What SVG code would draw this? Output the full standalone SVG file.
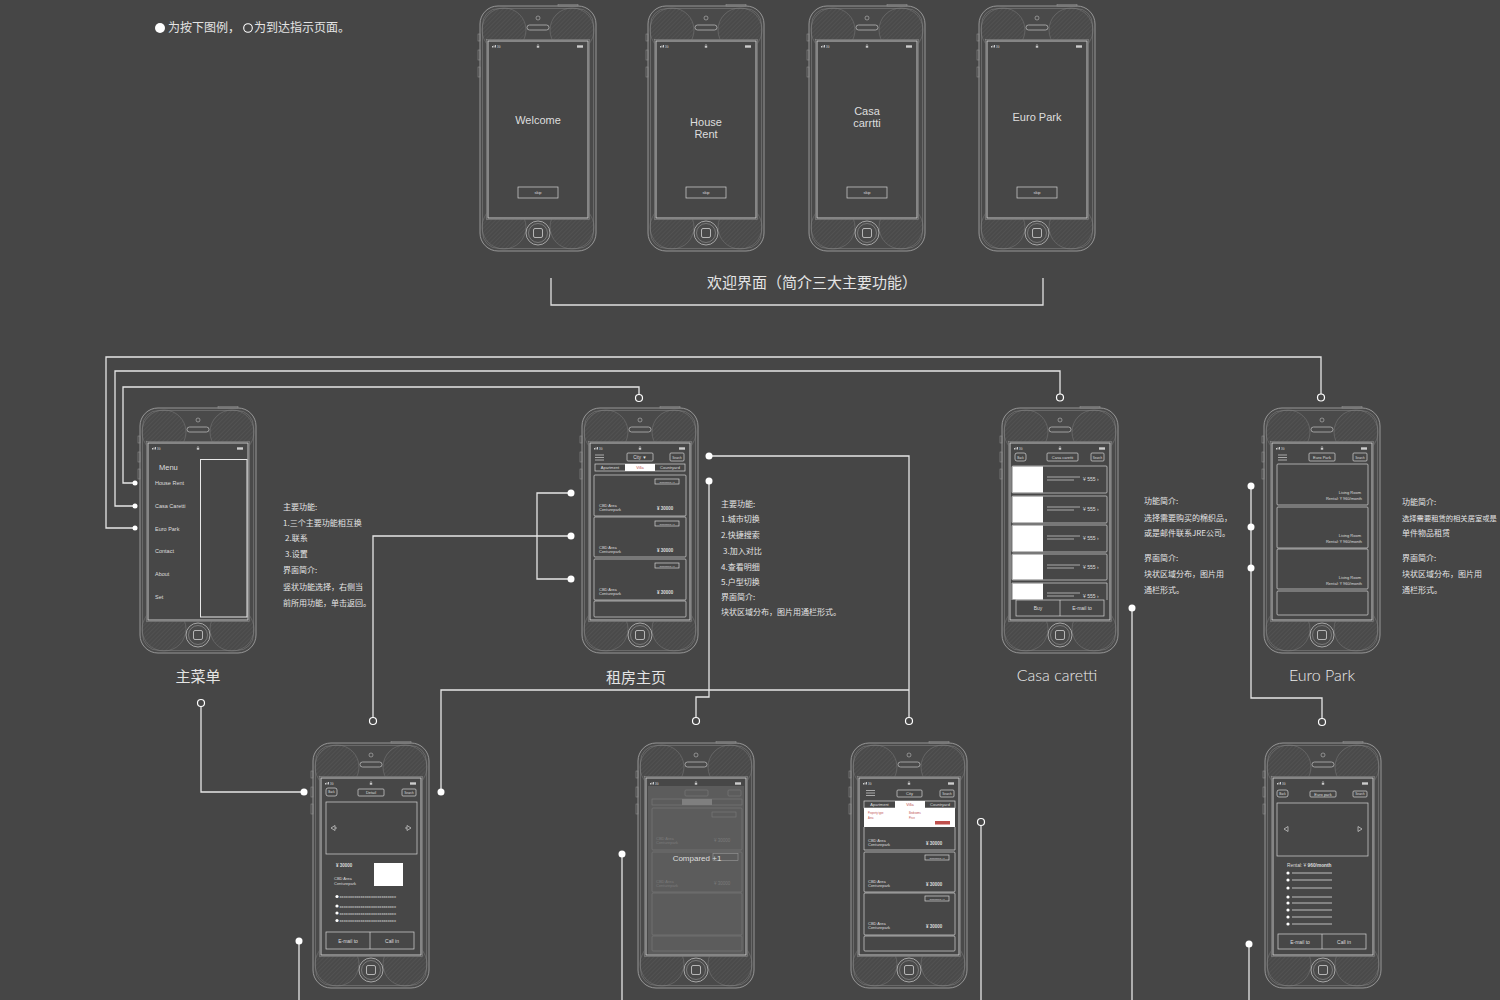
<svg xmlns="http://www.w3.org/2000/svg" width="1500" height="1000" viewBox="0 0 1500 1000">
<defs>
<style>
.cn{font-family:"Noto Sans CJK SC","Liberation Sans",sans-serif;fill:#e4e4e4}
.t{font-family:"Liberation Sans",Arial,sans-serif;fill:#dedede}
.g{font-family:Lato,"Liberation Sans",sans-serif;fill:#ececec;font-weight:300}
.w{fill:none;stroke:#d4d4d4;stroke-width:0.7}
.conn path{fill:none;stroke:#e6e6e6;stroke-width:1.3}
.dot{fill:#ffffff}
.odot{fill:#464646;stroke:#ffffff;stroke-width:1.2}
.red{fill:#c0504d}
</style>
<pattern id="hatch" width="3" height="3" patternUnits="userSpaceOnUse" patternTransform="rotate(45)">
<line x1="0" y1="0" x2="0" y2="3" stroke="#5a5a5a" stroke-width="1"/>
</pattern>
<g id="phone">
<rect x="0" y="0" width="116" height="245" rx="18" fill="#4a4a4a" stroke="#a9a9a9" stroke-width="0.8"/>
<circle cx="24" cy="24" r="22" fill="url(#hatch)" stroke="#7c7c7c" stroke-width="0.5"/>
<circle cx="92" cy="24" r="22" fill="url(#hatch)" stroke="#7c7c7c" stroke-width="0.5"/>
<circle cx="24" cy="221" r="22" fill="url(#hatch)" stroke="#7c7c7c" stroke-width="0.5"/>
<circle cx="92" cy="221" r="22" fill="url(#hatch)" stroke="#7c7c7c" stroke-width="0.5"/>
<rect x="2.5" y="2.5" width="111" height="240" rx="16" fill="none" stroke="#888" stroke-width="0.5"/>
<rect x="-2" y="28" width="2" height="7" fill="none" stroke="#999" stroke-width="0.5"/>
<rect x="-2" y="44" width="2" height="10" fill="none" stroke="#999" stroke-width="0.5"/>
<rect x="-2" y="61" width="2" height="10" fill="none" stroke="#999" stroke-width="0.5"/>
<rect x="78" y="-1.5" width="20" height="1.5" fill="none" stroke="#999" stroke-width="0.5"/>
<circle cx="58" cy="12" r="2" fill="none" stroke="#bbb" stroke-width="0.6"/>
<rect x="47" y="19" width="22" height="5" rx="2.5" fill="none" stroke="#c4c4c4" stroke-width="0.7"/>
<rect x="6.5" y="33.5" width="103" height="180" fill="#474747" stroke="#8c8c8c" stroke-width="0.6"/>
<rect x="8" y="35" width="100" height="177" fill="none" stroke="#d0d0d0" stroke-width="0.9"/>
<rect x="12" y="40" width="1" height="1.5" fill="#ccc"/>
<rect x="13.5" y="39.5" width="1" height="2" fill="#ccc"/>
<rect x="15" y="39" width="1" height="2.5" fill="#ccc"/>
<text x="17" y="41.5" class="t" font-size="2.6">3G</text>
<rect x="56.8" y="39.8" width="2.4" height="1.9" fill="#ccc"/>
<path d="M57.3,39.8v-0.7a0.7,0.7 0 0 1 1.4,0v0.7" fill="none" stroke="#ccc" stroke-width="0.4"/>
<rect x="97" y="39.3" width="6" height="2.4" fill="#ccc"/>
<circle cx="58" cy="227" r="12" fill="none" stroke="#bdbdbd" stroke-width="0.8"/>
<circle cx="58" cy="227" r="9.5" fill="none" stroke="#9a9a9a" stroke-width="0.6"/>
<rect x="53.5" y="222.5" width="9" height="9" rx="1.5" fill="none" stroke="#d0d0d0" stroke-width="0.8"/>
</g>
</defs>
<rect x="0" y="0" width="1500" height="1000" fill="#464646"/>

<g id="legend">
<circle cx="160" cy="28" r="5" class="dot"/>
<text x="168" y="32" class="cn" font-size="12">为按下图例，</text>
<circle cx="248" cy="28" r="4.3" fill="none" stroke="#fff" stroke-width="1.1"/>
<text x="254" y="32" class="cn" font-size="12">为到达指示页面。</text>
</g>

<g id="welcome-1">
<use href="#phone" x="480" y="6"/>
<text x="538" y="124" class="t" font-size="11" text-anchor="middle">Welcome</text>
<rect x="518" y="187" width="40" height="11" class="w"/>
<text x="538" y="194" class="t" font-size="4" text-anchor="middle">skip</text>
</g>
<g id="welcome-2">
<use href="#phone" x="648" y="6"/>
<text x="706" y="126" class="t" font-size="11" text-anchor="middle">House</text>
<text x="706" y="138" class="t" font-size="11" text-anchor="middle">Rent</text>
<rect x="686" y="187" width="40" height="11" class="w"/>
<text x="706" y="194" class="t" font-size="4" text-anchor="middle">skip</text>
</g>
<g id="welcome-3">
<use href="#phone" x="809" y="6"/>
<text x="867" y="115" class="t" font-size="11" text-anchor="middle">Casa</text>
<text x="867" y="127" class="t" font-size="11" text-anchor="middle">carrtti</text>
<rect x="847" y="187" width="40" height="11" class="w"/>
<text x="867" y="194" class="t" font-size="4" text-anchor="middle">skip</text>
</g>
<g id="welcome-4">
<use href="#phone" x="979" y="6"/>
<text x="1037" y="121" class="t" font-size="11" text-anchor="middle">Euro Park</text>
<rect x="1017" y="187" width="40" height="11" class="w"/>
<text x="1037" y="194" class="t" font-size="4" text-anchor="middle">skip</text>
</g>

<g id="welcome-bracket">
<path d="M551,278V305H1043V278" fill="none" stroke="#e0e0e0" stroke-width="1.3"/>
<text x="812" y="288" class="cn" font-size="15" text-anchor="middle">欢迎界面（简介三大主要功能）</text>
</g>

<g id="main-menu">
<use href="#phone" x="140" y="408"/>
<text x="159" y="470" class="t" font-size="7.5">Menu</text>
<text x="155" y="485" class="t" font-size="5.5">House Rent</text>
<text x="155" y="508" class="t" font-size="5.5">Casa  Caretti</text>
<text x="155" y="531" class="t" font-size="5.5">Euro Park</text>
<text x="155" y="553" class="t" font-size="5.5">Contact</text>
<text x="155" y="576" class="t" font-size="5.5">About</text>
<text x="155" y="599" class="t" font-size="5.5">Set</text>
<rect x="200.5" y="459.5" width="46.5" height="157.5" fill="none" stroke="#e8e8e8" stroke-width="1"/>
<text x="198" y="682" class="cn" font-size="15" text-anchor="middle">主菜单</text>
</g>
<g id="menu-notes">
<text x="283" y="510" class="cn" font-size="8">主要功能:</text>
<text x="283" y="526" class="cn" font-size="8">1.三个主要功能相互换</text>
<text x="285" y="541" class="cn" font-size="8">2.联系</text>
<text x="285" y="557" class="cn" font-size="8">3.设置</text>
<text x="283" y="573" class="cn" font-size="8">界面简介:</text>
<text x="283" y="590" class="cn" font-size="8">竖状功能选择，右侧当</text>
<text x="283" y="606" class="cn" font-size="8">前所用功能，单击返回。</text>
</g>

<g id="rent-home">
<use href="#phone" x="582" y="408"/>
<g class="w">
<path d="M595,455h9M595,457.5h9M595,460h9"/>
<rect x="627" y="453" width="26" height="8" rx="1"/>
<rect x="670" y="453" width="14" height="8" rx="1"/>
<rect x="595" y="464" width="90" height="7"/>
<rect x="594" y="475" width="92" height="41" rx="1"/>
<rect x="594" y="517" width="92" height="40" rx="1"/>
<rect x="594" y="559" width="92" height="41" rx="1"/>
<rect x="594" y="601" width="92" height="16" rx="1"/>
<rect x="655" y="479" width="24" height="5"/>
<rect x="655" y="521" width="24" height="5"/>
<rect x="655" y="563" width="24" height="5"/>
</g>
<rect x="625" y="464" width="30" height="7" fill="#fff"/>
<text x="640" y="459" class="t" font-size="4.5" text-anchor="middle">City ▼</text>
<text x="677" y="458.5" class="t" font-size="3" text-anchor="middle">Search</text>
<text x="610" y="469.3" class="t" font-size="4" text-anchor="middle">Apartment</text>
<text x="640" y="469.3" class="red" font-family="Liberation Sans,sans-serif" font-size="4" text-anchor="middle">Villa</text>
<text x="670" y="469.3" class="t" font-size="4" text-anchor="middle">Countryard</text>
<text x="667" y="482.5" class="t" font-size="2.5" text-anchor="middle">Compared +1</text>
<text x="667" y="524.5" class="t" font-size="2.5" text-anchor="middle">Compared +1</text>
<text x="667" y="566.5" class="t" font-size="2.5" text-anchor="middle">Compared +1</text>
<text x="599" y="507" class="t" font-size="4">CBD Area</text>
<text x="599" y="511" class="t" font-size="4">Centurepark</text>
<text x="657" y="509.5" class="t" font-size="4.5" font-weight="bold">¥ 30000</text>
<text x="599" y="549" class="t" font-size="4">CBD Area</text>
<text x="599" y="553" class="t" font-size="4">Centurepark</text>
<text x="657" y="551.5" class="t" font-size="4.5" font-weight="bold">¥ 30000</text>
<text x="599" y="591" class="t" font-size="4">CBD Area</text>
<text x="599" y="595" class="t" font-size="4">Centurepark</text>
<text x="657" y="593.5" class="t" font-size="4.5" font-weight="bold">¥ 30000</text>
<text x="636" y="683" class="cn" font-size="15" text-anchor="middle">租房主页</text>
</g>
<g id="rent-notes">
<text x="721" y="507" class="cn" font-size="8">主要功能:</text>
<text x="721" y="522" class="cn" font-size="8">1.城市切换</text>
<text x="721" y="538" class="cn" font-size="8">2.快捷搜索</text>
<text x="723" y="554" class="cn" font-size="8">3.加入对比</text>
<text x="721" y="570" class="cn" font-size="8">4.查看明细</text>
<text x="721" y="585" class="cn" font-size="8">5.户型切换</text>
<text x="721" y="600" class="cn" font-size="8">界面简介:</text>
<text x="721" y="615" class="cn" font-size="8">块状区域分布，图片用通栏形式。</text>
</g>

<g id="casa-caretti">
<use href="#phone" x="1002" y="408"/>
<g class="w">
<rect x="1015" y="453" width="11" height="8" rx="2"/>
<rect x="1047" y="453" width="31" height="8" rx="1"/>
<rect x="1091" y="453" width="13" height="8" rx="1"/>
<rect x="1012" y="466" width="95" height="27" rx="1"/>
<rect x="1012" y="496" width="95" height="27" rx="1"/>
<rect x="1012" y="525" width="95" height="27" rx="1"/>
<rect x="1012" y="554" width="95" height="26" rx="1"/>
<path d="M1012,600V583H1107V600"/>
<path d="M1047,477h33M1047,480h27M1047,507h33M1047,510h27M1047,536h33M1047,539h27M1047,565h33M1047,568h27M1047,593h33M1047,596h27"/>
<rect x="1016" y="600" width="88" height="16"/>
<path d="M1060,600v16"/>
</g>
<rect x="1012.5" y="466.5" width="30.5" height="26" fill="#fff"/>
<rect x="1012.5" y="496.5" width="30.5" height="26" fill="#fff"/>
<rect x="1012.5" y="525.5" width="30.5" height="26" fill="#fff"/>
<rect x="1012.5" y="554.5" width="30.5" height="25" fill="#fff"/>
<rect x="1012.5" y="583.5" width="30.5" height="16" fill="#fff"/>
<text x="1020.5" y="458.5" class="t" font-size="3" text-anchor="middle">Back</text>
<text x="1062.5" y="458.8" class="t" font-size="4" text-anchor="middle">Casa caretti</text>
<text x="1097.5" y="458.5" class="t" font-size="3" text-anchor="middle">Search</text>
<text x="1083" y="481" class="t" font-size="5">¥ 555 ›</text>
<text x="1083" y="511" class="t" font-size="5">¥ 555 ›</text>
<text x="1083" y="540" class="t" font-size="5">¥ 555 ›</text>
<text x="1083" y="569" class="t" font-size="5">¥ 555 ›</text>
<text x="1083" y="598" class="t" font-size="5">¥ 555 ›</text>
<text x="1038" y="610" class="t" font-size="5" text-anchor="middle">Buy</text>
<text x="1082" y="610" class="t" font-size="5" text-anchor="middle">E-mail to</text>
<text x="1057" y="681" class="g" font-size="16" text-anchor="middle">Casa caretti</text>
</g>
<g id="casa-notes">
<text x="1144" y="504" class="cn" font-size="8">功能简介:</text>
<text x="1144" y="521" class="cn" font-size="8">选择需要购买的棉织品，</text>
<text x="1144" y="536" class="cn" font-size="8">或是邮件联系JRE公司。</text>
<text x="1144" y="561" class="cn" font-size="8">界面简介:</text>
<text x="1144" y="577" class="cn" font-size="8">块状区域分布，图片用</text>
<text x="1144" y="593" class="cn" font-size="8">通栏形式。</text>
</g>

<g id="euro-park">
<use href="#phone" x="1264" y="408"/>
<g class="w">
<path d="M1278,455h9M1278,457.5h9M1278,460h9"/>
<rect x="1309" y="453" width="26" height="8" rx="1"/>
<rect x="1353" y="453" width="14" height="8" rx="1"/>
<rect x="1277" y="464" width="91" height="41" rx="1"/>
<rect x="1277" y="507" width="91" height="41" rx="1"/>
<rect x="1277" y="549" width="91" height="40" rx="1"/>
<rect x="1277" y="591" width="91" height="24" rx="1"/>
</g>
<text x="1322" y="458.8" class="t" font-size="4" text-anchor="middle">Euro Park</text>
<text x="1360" y="458.5" class="t" font-size="3" text-anchor="middle">Search</text>
<text x="1361" y="494" class="t" font-size="4" text-anchor="end">Living Room</text>
<text x="1362" y="500" class="t" font-size="4" text-anchor="end">Rental:  ¥ 960/month</text>
<text x="1361" y="537" class="t" font-size="4" text-anchor="end">Living Room</text>
<text x="1362" y="543" class="t" font-size="4" text-anchor="end">Rental:  ¥ 960/month</text>
<text x="1361" y="579" class="t" font-size="4" text-anchor="end">Living Room</text>
<text x="1362" y="585" class="t" font-size="4" text-anchor="end">Rental:  ¥ 960/month</text>
<text x="1322" y="681" class="g" font-size="16" text-anchor="middle">Euro Park</text>
</g>
<g id="euro-notes">
<text x="1402" y="505" class="cn" font-size="8">功能简介:</text>
<text x="1402" y="521" class="cn" font-size="7.3">选择需要租赁的相关居室或是</text>
<text x="1402" y="536" class="cn" font-size="8">单件物品租赁</text>
<text x="1402" y="561" class="cn" font-size="8">界面简介:</text>
<text x="1402" y="577" class="cn" font-size="8">块状区域分布，图片用</text>
<text x="1402" y="593" class="cn" font-size="8">通栏形式。</text>
</g>

<g id="rent-detail">
<use href="#phone" x="313" y="743"/>
<g class="w">
<rect x="326" y="788" width="11" height="8" rx="2"/>
<rect x="358" y="789" width="26" height="7" rx="1"/>
<rect x="402" y="789" width="14" height="7" rx="1"/>
<rect x="326" y="802" width="91" height="52"/>
<path d="M331,828l4,-2.5v5zM335,828h2M411,828l-4,-2.5v5zM407,828h-2"/>
<rect x="326" y="932" width="88" height="17"/>
<path d="M370,932v17"/>
</g>
<text x="331.5" y="793.3" class="t" font-size="3" text-anchor="middle">Back</text>
<text x="371" y="794" class="t" font-size="4" text-anchor="middle">Detail</text>
<text x="409" y="793.8" class="t" font-size="3" text-anchor="middle">Search</text>
<text x="336" y="867" class="t" font-size="4.5" font-weight="bold">¥ 30000</text>
<text x="334" y="880" class="t" font-size="4">CBD Area</text>
<text x="334" y="885" class="t" font-size="4">Centurepark</text>
<rect x="374" y="863" width="29" height="23" fill="#fff"/>
<circle cx="337" cy="896.5" r="1.6" class="dot"/>
<circle cx="337" cy="906" r="1.6" class="dot"/>
<circle cx="337" cy="913" r="1.6" class="dot"/>
<circle cx="337" cy="920.5" r="1.6" class="dot"/>
<text x="339.5" y="898" class="t" font-size="4.2">xxxxxxxxxxxxxxxxxxxxxxxxxxx</text>
<text x="339.5" y="907.5" class="t" font-size="4.2">xxxxxxxxxxxxxxxxxxxxxxxxxxx</text>
<text x="339.5" y="914.5" class="t" font-size="4.2">xxxxxxxxxxxxxxxxxxxxxxxxxxx</text>
<text x="339.5" y="922" class="t" font-size="4.2">xxxxxxxxxxxxxxxxxxxxxxxxxxx</text>
<text x="348" y="942.5" class="t" font-size="5" text-anchor="middle">E-mail to</text>
<text x="392" y="942.5" class="t" font-size="5" text-anchor="middle">Call in</text>
</g>

<g id="compare">
<use href="#phone" x="638" y="743"/>
<g opacity="0.35">
<g class="w">
<rect x="685" y="790" width="23" height="6" rx="1"/>
<rect x="728" y="790" width="13" height="6" rx="1"/>
<rect x="652" y="799" width="90" height="6"/>
<rect x="652" y="808" width="90" height="42" rx="1"/>
<rect x="712" y="812" width="24" height="5"/>
<rect x="652" y="852" width="90" height="40" rx="1"/>
<rect x="652" y="893" width="90" height="42" rx="1"/>
<rect x="652" y="936" width="90" height="15" rx="1"/>
</g>
<rect x="682" y="799" width="30" height="6" fill="#fff"/>
<text x="656" y="840" class="t" font-size="4">CBD Area</text>
<text x="656" y="844" class="t" font-size="4">Centurepark</text>
<text x="714" y="842" class="t" font-size="4.5">¥ 30000</text>
<text x="656" y="883" class="t" font-size="4">CBD Area</text>
<text x="656" y="887" class="t" font-size="4">Centurepark</text>
<text x="714" y="885" class="t" font-size="4.5">¥ 30000</text>
</g>
<rect x="648" y="786" width="96" height="168" fill="#767676" opacity="0.45"/>
<rect x="713" y="853.5" width="25" height="7" fill="none" stroke="#9a9a9a" stroke-width="0.6"/>
<text x="697" y="861" class="t" font-size="8" text-anchor="middle" fill="#f2f2f2">Compared  +1</text>
</g>

<g id="filter">
<use href="#phone" x="851" y="743"/>
<g class="w">
<path d="M866,790.5h9M866,793h9M866,795.5h9"/>
<rect x="897" y="790" width="25" height="7" rx="1"/>
<rect x="940" y="790" width="14" height="7" rx="1"/>
<rect x="864" y="801" width="91" height="7"/>
<path d="M864,827V850H955V827"/>
<rect x="864" y="852" width="91" height="40" rx="1"/>
<rect x="864" y="893" width="91" height="42" rx="1"/>
<rect x="864" y="936" width="91" height="15" rx="1"/>
<rect x="925" y="855" width="24" height="5"/>
<rect x="925" y="896" width="24" height="5"/>
</g>
<rect x="895" y="801" width="30" height="7" fill="#fff"/>
<rect x="864" y="808" width="91" height="19" fill="#fff"/>
<rect x="935" y="821" width="15" height="3.5" class="red"/>
<text x="909.5" y="795.3" class="t" font-size="4" text-anchor="middle">City</text>
<text x="947" y="795" class="t" font-size="3" text-anchor="middle">Search</text>
<text x="879.5" y="806.3" class="t" font-size="4" text-anchor="middle">Apartment</text>
<text x="910" y="806.3" class="red" font-family="Liberation Sans,sans-serif" font-size="4" text-anchor="middle">Villa</text>
<text x="940" y="806.3" class="t" font-size="4" text-anchor="middle">Countryard</text>
<text x="868" y="814" class="red" font-family="Liberation Sans,sans-serif" font-size="2.6">Property type</text>
<text x="909" y="814" class="red" font-family="Liberation Sans,sans-serif" font-size="2.6">Bedrooms</text>
<text x="868" y="819" class="red" font-family="Liberation Sans,sans-serif" font-size="2.6">Area</text>
<text x="909" y="819" class="red" font-family="Liberation Sans,sans-serif" font-size="2.6">Price</text>
<text x="868" y="842" class="t" font-size="4">CBD Area</text>
<text x="868" y="846" class="t" font-size="4">Centurepark</text>
<text x="926" y="844.5" class="t" font-size="4.5" font-weight="bold">¥ 30000</text>
<text x="937" y="858.5" class="t" font-size="2.5" text-anchor="middle">Compared +1</text>
<text x="868" y="883" class="t" font-size="4">CBD Area</text>
<text x="868" y="887" class="t" font-size="4">Centurepark</text>
<text x="926" y="885.5" class="t" font-size="4.5" font-weight="bold">¥ 30000</text>
<text x="937" y="899.5" class="t" font-size="2.5" text-anchor="middle">Compared +1</text>
<text x="868" y="925" class="t" font-size="4">CBD Area</text>
<text x="868" y="929" class="t" font-size="4">Centurepark</text>
<text x="926" y="927.5" class="t" font-size="4.5" font-weight="bold">¥ 30000</text>
</g>

<g id="euro-detail">
<use href="#phone" x="1265" y="743"/>
<g class="w">
<rect x="1277" y="790" width="11" height="7" rx="2"/>
<rect x="1310" y="791" width="26" height="6" rx="1"/>
<rect x="1353" y="791" width="14" height="6" rx="1"/>
<rect x="1277" y="803" width="91" height="53"/>
<path d="M1284,829l4,-2.5v5zM1362,829l-4,-2.5v5z"/>
<rect x="1278" y="934" width="88" height="15"/>
<path d="M1322,934v15"/>
</g>
<path d="M1292,873h40M1292,880h40M1292,888h40M1292,897h40M1292,903h40M1292,910h40M1292,917h40M1292,924h40" fill="none" stroke="#bdbdbd" stroke-width="1.2"/>
<circle cx="1288" cy="873" r="1.6" class="dot"/>
<circle cx="1288" cy="880" r="1.6" class="dot"/>
<circle cx="1288" cy="888" r="1.6" class="dot"/>
<circle cx="1288" cy="897" r="1.6" class="dot"/>
<circle cx="1288" cy="903" r="1.6" class="dot"/>
<circle cx="1288" cy="910" r="1.6" class="dot"/>
<circle cx="1288" cy="917" r="1.6" class="dot"/>
<circle cx="1288" cy="924" r="1.6" class="dot"/>
<text x="1282.5" y="794.8" class="t" font-size="3" text-anchor="middle">Back</text>
<text x="1323" y="795.5" class="t" font-size="4" text-anchor="middle">Euro park</text>
<text x="1360" y="795.3" class="t" font-size="3" text-anchor="middle">Search</text>
<text x="1287" y="866.5" class="t" font-size="4.8">Rental: ¥ <tspan font-weight="bold">960/month</tspan></text>
<text x="1300" y="944" class="t" font-size="5" text-anchor="middle">E-mail to</text>
<text x="1344" y="944" class="t" font-size="5" text-anchor="middle">Call in</text>
</g>

<g id="connectors" class="conn">
<path d="M135,528H106V357H1321V394"/>
<path d="M135,506H115V371H1060V394"/>
<path d="M135,483H123V387H639V394.5"/>
<path d="M571,493H537V579H571"/>
<path d="M373,717.5V536H571"/>
<path d="M709,456H909V717.5"/>
<path d="M709,480V697H696V717.5"/>
<path d="M441,792V690H909"/>
<path d="M201,706.5V792H304"/>
<path d="M299,941V1000"/>
<path d="M622,854V1000"/>
<path d="M981,825.5V1000"/>
<path d="M1132,608V1000"/>
<path d="M1251,486V698H1322V718.5"/>
<path d="M1249,944V1000"/>
</g>
<g id="markers">
<circle cx="135" cy="483" r="2.5" class="dot"/>
<circle cx="135" cy="506" r="2.5" class="dot"/>
<circle cx="135" cy="528" r="2.5" class="dot"/>
<circle cx="1321" cy="397.5" r="3.5" class="odot"/>
<circle cx="1060" cy="397.5" r="3.5" class="odot"/>
<circle cx="639" cy="398" r="3.5" class="odot"/>
<circle cx="571" cy="493" r="3.5" class="dot"/>
<circle cx="571" cy="536" r="3.5" class="dot"/>
<circle cx="571" cy="579" r="3.5" class="dot"/>
<circle cx="373" cy="721" r="3.5" class="odot"/>
<circle cx="709" cy="456" r="3.5" class="dot"/>
<circle cx="709" cy="481" r="3.5" class="dot"/>
<circle cx="909" cy="721" r="3.5" class="odot"/>
<circle cx="696" cy="721" r="3.5" class="odot"/>
<circle cx="441" cy="792" r="3.5" class="dot"/>
<circle cx="201" cy="703" r="3.5" class="odot"/>
<circle cx="304" cy="792" r="3.5" class="dot"/>
<circle cx="299" cy="941" r="3.5" class="dot"/>
<circle cx="622" cy="854" r="3.5" class="dot"/>
<circle cx="981" cy="822" r="3.5" class="odot"/>
<circle cx="1132" cy="608" r="3.5" class="dot"/>
<circle cx="1251" cy="486" r="3.5" class="dot"/>
<circle cx="1251" cy="527" r="3.5" class="dot"/>
<circle cx="1251" cy="568" r="3.5" class="dot"/>
<circle cx="1322" cy="722" r="3.5" class="odot"/>
<circle cx="1249" cy="944" r="3.5" class="dot"/>
</g>
</svg>
